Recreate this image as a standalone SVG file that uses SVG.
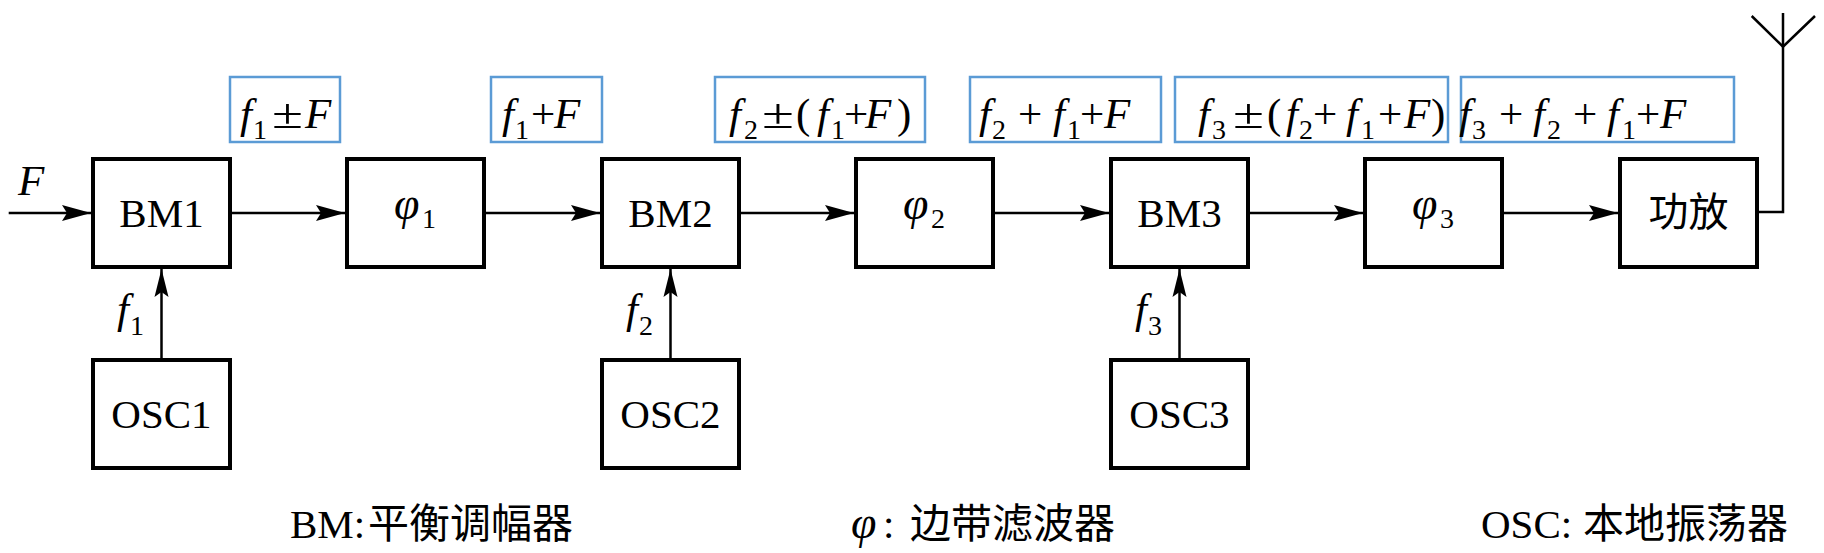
<svg xmlns="http://www.w3.org/2000/svg" width="1824" height="553" viewBox="0 0 1824 553">
<style>
.box{fill:#fff;stroke:#000;stroke-width:4;stroke-linejoin:miter}
.lbl{fill:none;stroke:#5B9BD5;stroke-width:2.5}
.wire{fill:none;stroke:#000;stroke-width:2.5}
.t{font-family:"Liberation Serif","Noto Sans CJK SC",serif;font-size:41px;fill:#000}
.i{font-style:italic}
.p{font-size:46px}
.s{font-size:28px;font-style:normal}
.m{font-family:"Liberation Serif",serif;font-size:43px;fill:#000}
.cjk{font-family:"Noto Sans CJK SC",sans-serif;font-size:40px;fill:#000}
</style>
<defs>
<marker id="ah" viewBox="-31 -9 31 18" markerWidth="31" markerHeight="18" refX="0" refY="0" orient="auto" markerUnits="userSpaceOnUse">
<path d="M0,0 L-29,-8 L-24,0 L-29,8 Z" fill="#000"/>
</marker>
<marker id="av" viewBox="-31 -9 31 18" markerWidth="31" markerHeight="18" refX="0" refY="0" orient="auto" markerUnits="userSpaceOnUse">
<path d="M0,0 L-28,-7 L-23,0 L-28,7 Z" fill="#000"/>
</marker>
</defs>
<rect width="1824" height="553" fill="#fff"/>

<g id="connectors">
<line class="wire" x1="8.7" y1="213" x2="91" y2="213" marker-end="url(#ah)"/>
<line class="wire" x1="232" y1="213" x2="345" y2="213" marker-end="url(#ah)"/>
<line class="wire" x1="486" y1="213" x2="600" y2="213" marker-end="url(#ah)"/>
<line class="wire" x1="741" y1="213" x2="854" y2="213" marker-end="url(#ah)"/>
<line class="wire" x1="995" y1="213" x2="1109" y2="213" marker-end="url(#ah)"/>
<line class="wire" x1="1250" y1="213" x2="1363" y2="213" marker-end="url(#ah)"/>
<line class="wire" x1="1504" y1="213" x2="1618" y2="213" marker-end="url(#ah)"/>
<line class="wire" x1="161.5" y1="358" x2="161.5" y2="269" marker-end="url(#av)"/>
<line class="wire" x1="670.5" y1="358" x2="670.5" y2="269" marker-end="url(#av)"/>
<line class="wire" x1="1179.5" y1="358" x2="1179.5" y2="269" marker-end="url(#av)"/>
</g>

<g id="antenna">
<polyline class="wire" points="1759,212 1783,212 1783,13"/>
<polyline class="wire" points="1751.7,16 1783,46.7 1815,16"/>
</g>

<g id="BM1"><rect class="box" x="93" y="159" width="137" height="108"/><text class="t" x="161.5" y="227" text-anchor="middle">BM1</text></g>
<g id="phi1"><rect class="box" x="347" y="159" width="137" height="108"/><text class="t i p" x="394" y="219">φ</text><text class="t s" x="422" y="228">1</text></g>
<g id="BM2"><rect class="box" x="602" y="159" width="137" height="108"/><text class="t" x="670.5" y="227" text-anchor="middle">BM2</text></g>
<g id="phi2"><rect class="box" x="856" y="159" width="137" height="108"/><text class="t i p" x="903" y="219">φ</text><text class="t s" x="931" y="228">2</text></g>
<g id="BM3"><rect class="box" x="1111" y="159" width="137" height="108"/><text class="t" x="1179.5" y="227" text-anchor="middle">BM3</text></g>
<g id="phi3"><rect class="box" x="1365" y="159" width="137" height="108"/><text class="t i p" x="1412" y="219">φ</text><text class="t s" x="1440" y="228">3</text></g>
<g id="PA"><rect class="box" x="1620" y="159" width="137" height="108"/><text class="cjk" x="1688.5" y="226" text-anchor="middle">功放</text></g>

<g id="OSC1"><rect class="box" x="93" y="360" width="137" height="108"/><text class="t" x="161.5" y="428" text-anchor="middle">OSC1</text></g>
<g id="OSC2"><rect class="box" x="602" y="360" width="137" height="108"/><text class="t" x="670.5" y="428" text-anchor="middle">OSC2</text></g>
<g id="OSC3"><rect class="box" x="1111" y="360" width="137" height="108"/><text class="t" x="1179.5" y="428" text-anchor="middle">OSC3</text></g>

<g id="input-label"><text class="m i" x="18" y="195">F</text></g>
<g id="lo-labels">
<text class="m i" x="117" y="323">f</text><text class="t s" x="130" y="335">1</text>
<text class="m i" x="626" y="323">f</text><text class="t s" x="639" y="335">2</text>
<text class="m i" x="1135" y="323">f</text><text class="t s" x="1148" y="335">3</text>
</g>

<g id="label1"><rect class="lbl" x="230" y="77" width="110" height="65"/>
<text class="m"><tspan class="i" x="240" y="128">f</tspan><tspan class="s" x="253" y="139">1</tspan><tspan class="i" x="305" y="128">F</tspan></text>
<text class="m" x="272" y="128" textLength="31" lengthAdjust="spacingAndGlyphs">±</text></g>
<g id="label2"><rect class="lbl" x="491" y="77" width="111" height="65"/>
<text class="m"><tspan class="i" x="502" y="128">f</tspan><tspan class="s" x="515" y="139">1</tspan><tspan x="531" y="128">+</tspan><tspan class="i" x="554" y="128">F</tspan></text></g>
<g id="label3"><rect class="lbl" x="715" y="77" width="210" height="65"/>
<text class="m"><tspan class="i" x="729" y="128">f</tspan><tspan class="s" x="744" y="139">2</tspan><tspan x="796" y="128">(</tspan><tspan class="i" x="817" y="128">f</tspan><tspan class="s" x="831" y="139">1</tspan><tspan x="844" y="128">+</tspan><tspan class="i" x="865" y="128">F</tspan><tspan x="897" y="128">)</tspan></text>
<text class="m" x="762" y="128" textLength="32" lengthAdjust="spacingAndGlyphs">±</text></g>
<g id="label4"><rect class="lbl" x="970" y="77" width="191" height="65"/>
<text class="m"><tspan class="i" x="979" y="128">f</tspan><tspan class="s" x="992" y="139">2</tspan><tspan x="1018" y="128">+</tspan><tspan class="i" x="1053" y="128">f</tspan><tspan class="s" x="1067" y="139">1</tspan><tspan x="1080" y="128">+</tspan><tspan class="i" x="1104" y="128">F</tspan></text></g>
<g id="label5"><rect class="lbl" x="1175" y="77" width="273" height="65"/>
<text class="m"><tspan class="i" x="1198" y="128">f</tspan><tspan class="s" x="1212" y="139">3</tspan><tspan x="1267" y="128">(</tspan><tspan class="i" x="1286" y="128">f</tspan><tspan class="s" x="1299" y="139">2</tspan><tspan x="1313" y="128">+</tspan><tspan class="i" x="1346" y="128">f</tspan><tspan class="s" x="1361" y="139">1</tspan><tspan x="1378" y="128">+</tspan><tspan class="i" x="1404" y="128">F</tspan><tspan x="1431" y="128">)</tspan></text>
<text class="m" x="1233" y="128" textLength="31" lengthAdjust="spacingAndGlyphs">±</text></g>
<g id="label6"><rect class="lbl" x="1461" y="77" width="273" height="65"/>
<text class="m"><tspan class="i" x="1459" y="128">f</tspan><tspan class="s" x="1472" y="139">3</tspan><tspan x="1499" y="128">+</tspan><tspan class="i" x="1533" y="128">f</tspan><tspan class="s" x="1547" y="139">2</tspan><tspan x="1573" y="128">+</tspan><tspan class="i" x="1607" y="128">f</tspan><tspan class="s" x="1622" y="139">1</tspan><tspan x="1636" y="128">+</tspan><tspan class="i" x="1660" y="128">F</tspan></text></g>

<g id="legend">
<text class="t" x="290" y="538">BM:<tspan x="368">平衡调幅器</tspan></text>
<text class="t"><tspan class="i p" x="851" y="538">φ</tspan><tspan x="883" y="538">: </tspan><tspan x="910" y="538">边带滤波器</tspan></text>
<text class="t" x="1481" y="538">OSC:<tspan x="1583">本地振荡器</tspan></text>
</g>
</svg>
